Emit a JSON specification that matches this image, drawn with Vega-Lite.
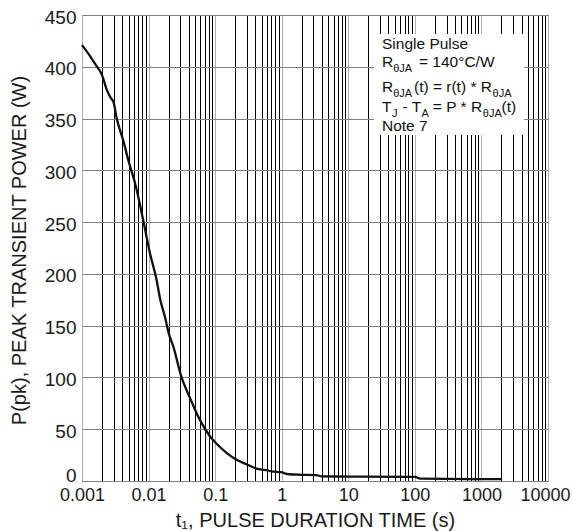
{
  "$schema": "https://vega.github.io/schema/vega-lite/v6.json",
  "width": 466,
  "height": 466,
  "autosize": {"type": "none"},
  "padding": {"left": 82, "top": 15, "right": 24, "bottom": 50},
  "background": "white",
  "config": {
    "view": {"stroke": "#222222", "strokeWidth": 1},
    "font": "Liberation Sans"
  },
  "encoding": {
    "x": {
      "field": "t",
      "type": "quantitative",
      "scale": {"type": "log", "domain": [0.001, 10000], "nice": false},
      "axis": {
        "values": [0.001,0.002,0.003,0.004,0.005,0.006,0.007,0.008,0.009,0.01,0.02,0.03,0.04,0.05,0.06,0.07,0.08,0.09,0.1,0.2,0.3,0.4,0.5,0.6,0.7,0.8,0.9,1,2,3,4,5,6,7,8,9,10,20,30,40,50,60,70,80,90,100,200,300,400,500,600,700,800,900,1000,2000,3000,4000,5000,6000,7000,8000,9000,10000],
        "labelExpr": "abs(log(datum.value)/LN10 - round(log(datum.value)/LN10)) < 0.000001 ? format(datum.value, '~g') : ''",
        "labelOverlap": false,
        "labelFlush": false,
        "labelBound": false,
        "labelOffset": {"condition": {"test": "datum.value > 5000", "value": -3}, "value": 0},
        "grid": true,
        "gridColor": {"condition": {"test": "abs(log(datum.value)/LN10 - round(log(datum.value)/LN10)) < 0.000001", "value": "#b0b0b0"}, "value": "#000000"},
        "gridWidth": 1,
        "ticks": false,
        "tickSize": 0,
        "domain": false,
        "labelFont": "Liberation Sans",
        "labelFontSize": 18,
        "labelColor": "#1a1a1a",
        "labelBaseline": "top",
        "labelPadding": 5,
        "title": "t₁, PULSE DURATION TIME (s)",
        "titleFont": "Liberation Sans",
        "titleFontSize": 20,
        "titleFontWeight": "normal",
        "titleColor": "#1a1a1a",
        "titleBaseline": "alphabetic",
        "titleAlign": "center",
        "titleX": 233,
        "titleY": 45
      }
    },
    "y": {
      "field": "p",
      "type": "quantitative",
      "scale": {"domain": [0, 450], "nice": false},
      "axis": {
        "values": [0, 50, 100, 150, 200, 250, 300, 350, 400, 450],
        "grid": true,
        "gridColor": "#808080",
        "gridWidth": 1,
        "ticks": false,
        "tickSize": 0,
        "domain": false,
        "labelFont": "Liberation Sans",
        "labelFontSize": 19,
        "labelColor": "#1a1a1a",
        "labelPadding": 6,
        "labelBaseline": "middle",
        "labelOffset": {"condition": {"test": "datum.value == 0", "value": -6}, "value": 2},
        "labelFlush": false,
        "labelBound": false,
        "title": "P(pk), PEAK TRANSIENT  POWER (W)",
        "titleFont": "Liberation Sans",
        "titleFontSize": 20,
        "titleFontWeight": "normal",
        "titleColor": "#1a1a1a",
        "titleAngle": -90,
        "titleBaseline": "alphabetic",
        "titleAlign": "center",
        "titleX": -57,
        "titleY": 235
      }
    }
  },
  "layer": [
    {
      "data": {"values": [{"t": 24.34, "t2": 4360, "p": 334.1, "p2": 431.7}]},
      "mark": {"type": "rect", "fill": "white", "stroke": null},
      "encoding": {
        "x2": {"field": "t2"},
        "y2": {"field": "p2"}
      }
    },
    {
      "data": {"values": [
        {"t": 0.001, "p": 421}, {"t": 0.0013, "p": 411}, {"t": 0.0016, "p": 402}, {"t": 0.002, "p": 392},
        {"t": 0.00235, "p": 378}, {"t": 0.0027, "p": 370}, {"t": 0.003, "p": 365}, {"t": 0.0033, "p": 351},
        {"t": 0.0042, "p": 328}, {"t": 0.005, "p": 309}, {"t": 0.0063, "p": 287}, {"t": 0.0083, "p": 252},
        {"t": 0.0105, "p": 220}, {"t": 0.0132, "p": 194}, {"t": 0.015, "p": 175}, {"t": 0.0177, "p": 158},
        {"t": 0.02, "p": 143}, {"t": 0.0235, "p": 130}, {"t": 0.031, "p": 101}, {"t": 0.042, "p": 80},
        {"t": 0.059, "p": 59}, {"t": 0.084, "p": 43}, {"t": 0.105, "p": 36}, {"t": 0.15, "p": 27},
        {"t": 0.21, "p": 20.5}, {"t": 0.3, "p": 16}, {"t": 0.42, "p": 12}, {"t": 0.5, "p": 11},
        {"t": 0.6, "p": 10.5}, {"t": 0.7, "p": 9.2}, {"t": 1.0, "p": 8.6}, {"t": 1.1, "p": 7.3},
        {"t": 1.3, "p": 6.5}, {"t": 2, "p": 6}, {"t": 3.3, "p": 5.6}, {"t": 4, "p": 4.5},
        {"t": 10, "p": 4.3}, {"t": 100, "p": 4}, {"t": 120, "p": 2.2}, {"t": 2000, "p": 1.8}
      ]},
      "mark": {"type": "line", "color": "#111111", "strokeWidth": 2.3, "interpolate": "monotone"},
      "encoding": {}
    },
    {
      "data": {"values": [
        {"t": 32.09, "p": 416.9, "label": "Single Pulse"},
        {"t": 32.09, "p": 399.8, "label": "R"},
        {"t": 115.4, "p": 399.8, "label": "= 140°C/W"},
        {"t": 32.09, "p": 375.6, "label": "R"},
        {"t": 97.1, "p": 375.6, "label": "(t) = r(t) * R"},
        {"t": 32.09, "p": 356.6, "label": "T"},
        {"t": 65.4, "p": 356.6, "label": "- T"},
        {"t": 186.2, "p": 356.6, "label": "= P * R"},
        {"t": 2010, "p": 356.6, "label": "(t)"},
        {"t": 32.09, "p": 338, "label": "Note 7"}
      ]},
      "mark": {"type": "text", "align": "left", "baseline": "alphabetic", "font": "Liberation Sans", "fontSize": 15.5, "color": "#111111"},
      "encoding": {"text": {"field": "label"}}
    },
    {
      "data": {"values": [
        {"t": 47.29, "p": 394.8, "label": "θJA"},
        {"t": 47.29, "p": 370.6, "label": "θJA"},
        {"t": 1467, "p": 370.6, "label": "θJA"},
        {"t": 45.3, "p": 351.6, "label": "J"},
        {"t": 126, "p": 351.6, "label": "A"},
        {"t": 1050, "p": 351.6, "label": "θJA"}
      ]},
      "mark": {"type": "text", "align": "left", "baseline": "alphabetic", "font": "Liberation Sans", "fontSize": 11, "color": "#111111"},
      "encoding": {"text": {"field": "label"}}
    }
  ]
}
